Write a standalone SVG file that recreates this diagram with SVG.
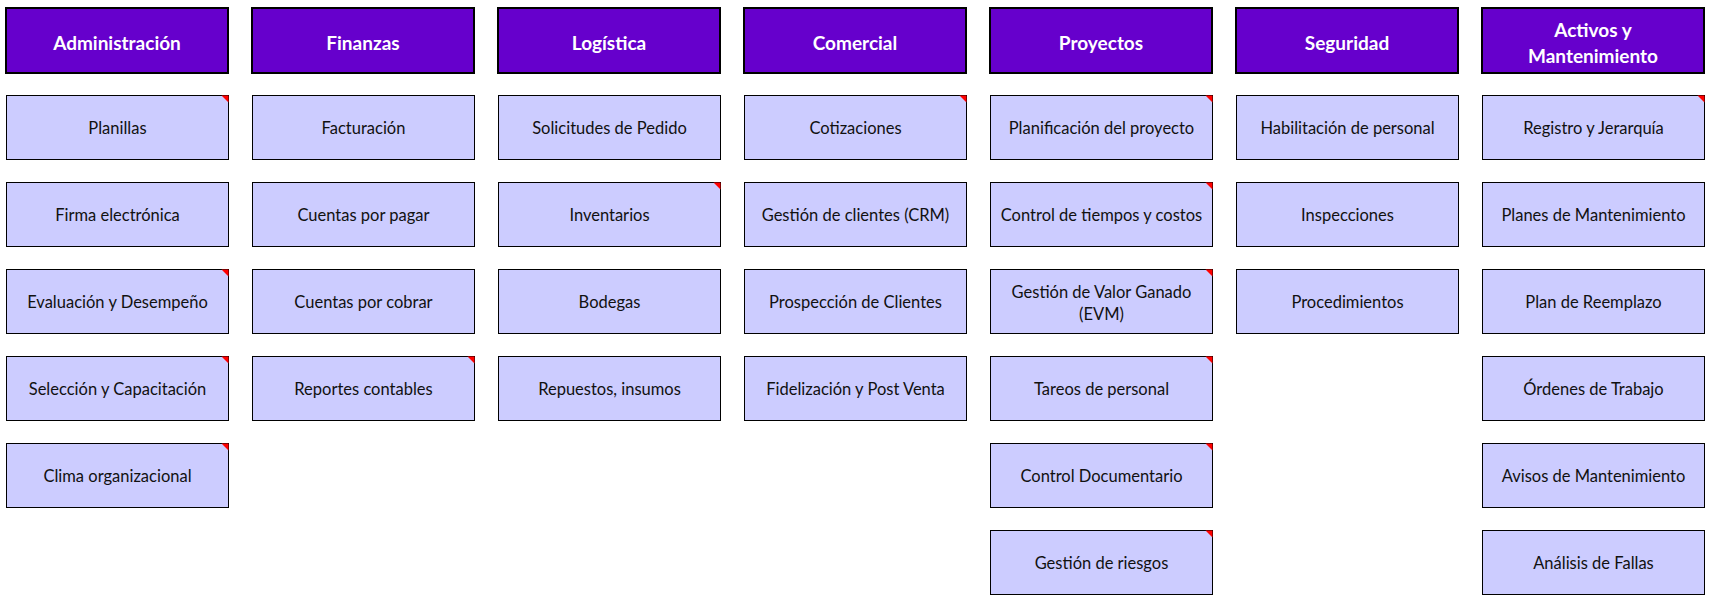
<svg xmlns="http://www.w3.org/2000/svg" width="1720" height="611" viewBox="0 0 1720 611">
  <style>
    .hd rect { fill: #6600CC; stroke: #000; stroke-width: 2; }
    .hd text { fill: #fff; font-family: Lato, "Liberation Sans", sans-serif; font-weight: bold; font-size: 19px; text-anchor: middle; dominant-baseline: central; }
    .it rect { fill: #CCCCFF; stroke: #000; stroke-width: 1; }
    .it text { fill: #111; font-family: Lato, "Liberation Sans", sans-serif; font-size: 16.5px; text-anchor: middle; dominant-baseline: central; }
    .flag { fill: #FF0000; }
  </style>
  <defs>
    <path id="mark" class="flag" d="M -7 0 L 0 0 L 0 7 Z"/>
  </defs>
  <rect width="1720" height="611" fill="#fff"/>

  <!-- Column headers -->
  <g id="h-admin" class="hd"><rect x="6" y="8" width="222" height="65"/><text x="117" y="42.5">Administración</text></g>
  <g id="h-finanzas" class="hd"><rect x="252" y="8" width="222" height="65"/><text x="363" y="42.5">Finanzas</text></g>
  <g id="h-logistica" class="hd"><rect x="498" y="8" width="222" height="65"/><text x="609" y="42.5">Logística</text></g>
  <g id="h-comercial" class="hd"><rect x="744" y="8" width="222" height="65"/><text x="855" y="42.5">Comercial</text></g>
  <g id="h-proyectos" class="hd"><rect x="990" y="8" width="222" height="65"/><text x="1101" y="42.5">Proyectos</text></g>
  <g id="h-seguridad" class="hd"><rect x="1236" y="8" width="222" height="65"/><text x="1347" y="42.5">Seguridad</text></g>
  <g id="h-activos" class="hd"><rect x="1482" y="8" width="222" height="65"/><text x="1593" y="29.5">Activos y</text><text x="1593" y="55.5">Mantenimiento</text></g>

  <!-- Administración -->
  <g id="n-planillas" class="it"><rect x="6.5" y="95.5" width="222" height="64"/><text x="117.5" y="128">Planillas</text><use href="#mark" x="228.5" y="95.5"/></g>
  <g id="n-firma" class="it"><rect x="6.5" y="182.5" width="222" height="64"/><text x="117.5" y="215">Firma electrónica</text></g>
  <g id="n-evaluacion" class="it"><rect x="6.5" y="269.5" width="222" height="64"/><text x="117.5" y="302">Evaluación y Desempeño</text><use href="#mark" x="228.5" y="269.5"/></g>
  <g id="n-seleccion" class="it"><rect x="6.5" y="356.5" width="222" height="64"/><text x="117.5" y="389">Selección y Capacitación</text><use href="#mark" x="228.5" y="356.5"/></g>
  <g id="n-clima" class="it"><rect x="6.5" y="443.5" width="222" height="64"/><text x="117.5" y="476">Clima organizacional</text><use href="#mark" x="228.5" y="443.5"/></g>

  <!-- Finanzas -->
  <g id="n-facturacion" class="it"><rect x="252.5" y="95.5" width="222" height="64"/><text x="363.5" y="128">Facturación</text></g>
  <g id="n-pagar" class="it"><rect x="252.5" y="182.5" width="222" height="64"/><text x="363.5" y="215">Cuentas por pagar</text></g>
  <g id="n-cobrar" class="it"><rect x="252.5" y="269.5" width="222" height="64"/><text x="363.5" y="302">Cuentas por cobrar</text></g>
  <g id="n-reportes" class="it"><rect x="252.5" y="356.5" width="222" height="64"/><text x="363.5" y="389">Reportes contables</text><use href="#mark" x="474.5" y="356.5"/></g>

  <!-- Logística -->
  <g id="n-solicitudes" class="it"><rect x="498.5" y="95.5" width="222" height="64"/><text x="609.5" y="128">Solicitudes de Pedido</text></g>
  <g id="n-inventarios" class="it"><rect x="498.5" y="182.5" width="222" height="64"/><text x="609.5" y="215">Inventarios</text><use href="#mark" x="720.5" y="182.5"/></g>
  <g id="n-bodegas" class="it"><rect x="498.5" y="269.5" width="222" height="64"/><text x="609.5" y="302">Bodegas</text></g>
  <g id="n-repuestos" class="it"><rect x="498.5" y="356.5" width="222" height="64"/><text x="609.5" y="389">Repuestos, insumos</text></g>

  <!-- Comercial -->
  <g id="n-cotizaciones" class="it"><rect x="744.5" y="95.5" width="222" height="64"/><text x="855.5" y="128">Cotizaciones</text><use href="#mark" x="966.5" y="95.5"/></g>
  <g id="n-crm" class="it"><rect x="744.5" y="182.5" width="222" height="64"/><text x="855.5" y="215">Gestión de clientes (CRM)</text></g>
  <g id="n-prospeccion" class="it"><rect x="744.5" y="269.5" width="222" height="64"/><text x="855.5" y="302">Prospección de Clientes</text></g>
  <g id="n-fidelizacion" class="it"><rect x="744.5" y="356.5" width="222" height="64"/><text x="855.5" y="389">Fidelización y Post Venta</text></g>

  <!-- Proyectos -->
  <g id="n-planificacion" class="it"><rect x="990.5" y="95.5" width="222" height="64"/><text x="1101.5" y="128">Planificación del proyecto</text><use href="#mark" x="1212.5" y="95.5"/></g>
  <g id="n-tiempos" class="it"><rect x="990.5" y="182.5" width="222" height="64"/><text x="1101.5" y="215">Control de tiempos y costos</text><use href="#mark" x="1212.5" y="182.5"/></g>
  <g id="n-evm" class="it"><rect x="990.5" y="269.5" width="222" height="64"/><text x="1101.5" y="292">Gestión de Valor Ganado</text><text x="1101.5" y="313.5">(EVM)</text><use href="#mark" x="1212.5" y="269.5"/></g>
  <g id="n-tareos" class="it"><rect x="990.5" y="356.5" width="222" height="64"/><text x="1101.5" y="389">Tareos de personal</text><use href="#mark" x="1212.5" y="356.5"/></g>
  <g id="n-documentario" class="it"><rect x="990.5" y="443.5" width="222" height="64"/><text x="1101.5" y="476">Control Documentario</text><use href="#mark" x="1212.5" y="443.5"/></g>
  <g id="n-riesgos" class="it"><rect x="990.5" y="530.5" width="222" height="64"/><text x="1101.5" y="563">Gestión de riesgos</text><use href="#mark" x="1212.5" y="530.5"/></g>

  <!-- Seguridad -->
  <g id="n-habilitacion" class="it"><rect x="1236.5" y="95.5" width="222" height="64"/><text x="1347.5" y="128">Habilitación de personal</text></g>
  <g id="n-inspecciones" class="it"><rect x="1236.5" y="182.5" width="222" height="64"/><text x="1347.5" y="215">Inspecciones</text></g>
  <g id="n-procedimientos" class="it"><rect x="1236.5" y="269.5" width="222" height="64"/><text x="1347.5" y="302">Procedimientos</text></g>

  <!-- Activos y Mantenimiento -->
  <g id="n-registro" class="it"><rect x="1482.5" y="95.5" width="222" height="64"/><text x="1593.5" y="128">Registro y Jerarquía</text><use href="#mark" x="1704.5" y="95.5"/></g>
  <g id="n-planes" class="it"><rect x="1482.5" y="182.5" width="222" height="64"/><text x="1593.5" y="215">Planes de Mantenimiento</text></g>
  <g id="n-reemplazo" class="it"><rect x="1482.5" y="269.5" width="222" height="64"/><text x="1593.5" y="302">Plan de Reemplazo</text></g>
  <g id="n-ordenes" class="it"><rect x="1482.5" y="356.5" width="222" height="64"/><text x="1593.5" y="389">Órdenes de Trabajo</text></g>
  <g id="n-avisos" class="it"><rect x="1482.5" y="443.5" width="222" height="64"/><text x="1593.5" y="476">Avisos de Mantenimiento</text></g>
  <g id="n-fallas" class="it"><rect x="1482.5" y="530.5" width="222" height="64"/><text x="1593.5" y="563">Análisis de Fallas</text></g>

  <!-- no connectors in this chart -->
  <g id="connectors"/>
</svg>
